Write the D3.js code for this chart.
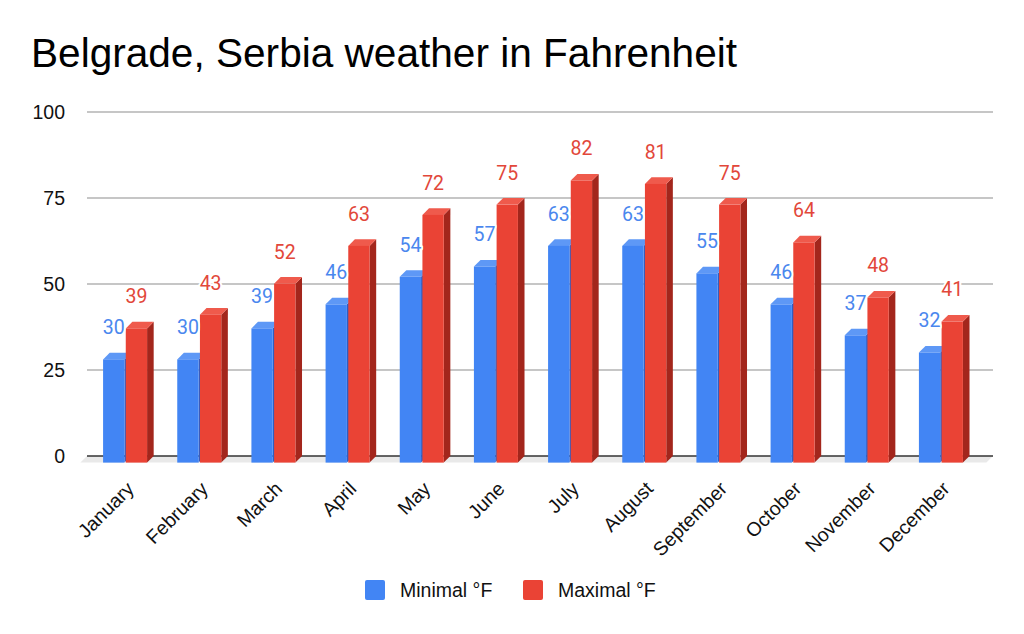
<!DOCTYPE html>
<html>
<head>
<meta charset="utf-8">
<script src="https://cdn.jsdelivr.net/npm/d3@7"></script>
<style>
  html, body { margin: 0; padding: 0; background: #fff; }
  svg { display: block; }
</style>
</head>
<body>
<svg id="chart" width="1024" height="634"></svg>
<script>
const months = ["January","February","March","April","May","June","July","August","September","October","November","December"];
const minimalF = [30,30,39,46,54,57,63,63,55,46,37,32];
const maximalF = [39,43,52,63,72,75,82,81,75,64,48,41];
const seriesNames = ["Minimal °F","Maximal °F"];
const yTicks = [0,25,50,75,100];
const titleText = "Belgrade, Serbia weather in Fahrenheit";

const colors = {
  "Minimal °F": {front:"#4285F4", top:"#5e98f6", side:"#2f5ec4", label:"#4a87ee"},
  "Maximal °F": {front:"#EA4335", top:"#ef5a4c", side:"#a3261c", label:"#e2473a"}
};
const seriesValues = {"Minimal °F": minimalF, "Maximal °F": maximalF};

const svg = d3.select("#chart");
const D = 6.6; // 3D depth offset
const axisFont = "'Liberation Sans', Arial, sans-serif";
const labelFont = "Roboto, 'Liberation Sans', Arial, sans-serif";

// back plane scales
const y = d3.scaleLinear().domain([0,100]).range([456,112]);
const gridX0 = 87, gridX1 = 993;
// front plane band scale
const x = d3.scaleBand().domain(months).range([88, 978]).paddingInner(0).paddingOuter(0);
const sub = d3.scaleBand().domain(seriesNames).range([-22, 22]).paddingInner(0.06);

// title
svg.append("text")
  .attr("x", 31).attr("y", 67)
  .attr("font-family", axisFont)
  .attr("font-size", 40.6)
  .attr("fill", "#000")
  .text(titleText);

// floor
const y0 = y(0);
svg.append("polygon")
  .attr("points", [[gridX0,y0],[gridX1,y0],[gridX1-D,y0+D],[gridX0-D,y0+D]].map(p=>p.join(",")).join(" "))
  .attr("fill", "#e9e9e9");

// gridlines
svg.append("g").selectAll("line").data(yTicks).join("line")
  .attr("x1", gridX0).attr("x2", gridX1)
  .attr("y1", d=>y(d)).attr("y2", d=>y(d))
  .attr("stroke", d=> d===0 ? "#333" : "#b3b3b3")
  .attr("stroke-width", 1.6);

// y-axis labels
svg.append("g").selectAll("text").data(yTicks).join("text")
  .attr("x", 65).attr("y", d=>y(d))
  .attr("dy", "0.36em")
  .attr("text-anchor", "end")
  .attr("font-family", axisFont)
  .attr("font-size", 19.5)
  .attr("fill", "#111")
  .text(d=>d);

// bars
const bars = [];
months.forEach((m,i)=>{
  seriesNames.forEach(s=>{
    bars.push({month:m, series:s, value:seriesValues[s][i]});
  });
});
const gBars = svg.append("g");
bars.forEach(b=>{
  const cx = x(b.month) + x.bandwidth()/2;
  const fx = cx + sub(b.series);
  const w = sub.bandwidth();
  const yB = y(b.value);      // back top
  const yF = yB + D;          // front top
  const yFb = y0 + D;         // front bottom
  const c = colors[b.series];
  const g = gBars.append("g");
  g.append("polygon")
    .attr("points", [[fx+w,yF],[fx+w+D,yB],[fx+w+D,y0],[fx+w,yFb]].map(p=>p.join(",")).join(" "))
    .attr("fill", c.side);
  g.append("polygon")
    .attr("points", [[fx,yF],[fx+w,yF],[fx+w+D,yB],[fx+D,yB]].map(p=>p.join(",")).join(" "))
    .attr("fill", c.top);
  g.append("rect")
    .attr("x", fx).attr("y", yF)
    .attr("width", w).attr("height", yFb - yF)
    .attr("fill", c.front);
});

// value labels
svg.append("g").selectAll("text").data(bars).join("text")
  .attr("x", d=> x(d.month) + x.bandwidth()/2 + sub(d.series) + sub.bandwidth()/2)
  .attr("y", d=> y(d.value) - 18.5)
  .attr("text-anchor", "middle")
  .attr("font-family", labelFont)
  .attr("font-size", 19.5)
  .attr("fill", d=>colors[d.series].label)
  .attr("stroke", "#fff").attr("stroke-width", 4)
  .attr("paint-order", "stroke")
  .attr("stroke-linejoin", "round")
  .text(d=>d.value);

// x-axis labels
svg.append("g").selectAll("text").data(months).join("text")
  .attr("transform", d=>`translate(${x(d)+x.bandwidth()/2+10},${490}) rotate(-45)`)
  .attr("text-anchor", "end")
  .attr("font-family", axisFont)
  .attr("font-size", 19.5)
  .attr("fill", "#111")
  .text(d=>d);

// legend
const legend = svg.append("g");
const legendItems = [{name:"Minimal °F", sx:365, tx:400},{name:"Maximal °F", sx:523, tx:558}];
legend.selectAll("rect").data(legendItems).join("rect")
  .attr("x", d=>d.sx).attr("y", 580)
  .attr("width", 20).attr("height", 20).attr("rx", 2)
  .attr("fill", d=>colors[d.name].front);
legend.selectAll("text").data(legendItems).join("text")
  .attr("x", d=>d.tx).attr("y", 597)
  .attr("font-family", axisFont)
  .attr("font-size", 19.5)
  .attr("fill", "#111")
  .text(d=>d.name);
</script>
</body>
</html>
